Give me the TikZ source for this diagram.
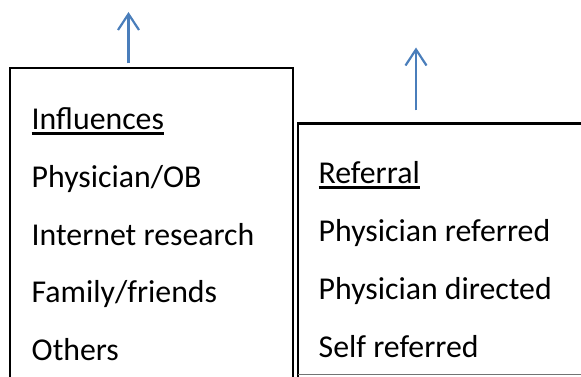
\documentclass[tikz,border=0pt]{standalone}
\usepackage{fontspec}
\setmainfont{Carlito}
\usetikzlibrary{arrows.meta}
\definecolor{arrowblue}{HTML}{4A7EBB}
\tikzset{
  item/.style={anchor=base west, inner sep=0pt, font=\fontsize{31.8}{38}\selectfont},
  boxline/.style={draw=black, line width=2.2pt},
  uparrow/.style={draw=arrowblue, line width=2.2pt, -{Straight Barb[length=16pt,width=21pt,line width=2.2pt]}},
  uline/.style={draw=black, line width=2.8pt}
}
\begin{document}
\begin{tikzpicture}[x=1pt,y=-1pt]
\useasboundingbox (0,0) rectangle (581,377);
\clip (0,0) rectangle (581,377);
% boxes
\draw[boxline] (10,400) -- (10,68) -- (293,68) -- (293,400);
\draw[boxline] (298,377) -- (298,123.5) -- (600,123.5);
\draw[draw=black!55, line width=1.4pt] (298,374.6) -- (600,374.6);
% arrows
\coordinate (a1s) at (128.5,63.5);
\coordinate (a1e) at (128.5,12);
\coordinate (a2s) at (416,110.5);
\coordinate (a2e) at (416,47.5);
\draw[uparrow] (a1s) -- (a1e);
\draw[uparrow] (a2s) -- (a2e);
% left texts
\node[item] (infl) at (31.5,129.3) {Influences};
\node[item] (phob) at (31.5,187) {Physician/OB};
\node[item] (inet) at (31.5,245) {Internet research};
\node[item] (fam) at (31.5,302.5) {Family/friends};
\node[item] (oth) at (31.5,360.5) {Others};
\draw[uline] ([yshift=-4.2pt]infl.base west) -- ([yshift=-4.2pt]infl.base east);
% right texts
\node[item] (refl) at (318.5,183.3) {Referral};
\node[item] (pref) at (318.5,241.7) {Physician referred};
\node[item] (pdir) at (318.5,299.5) {Physician directed};
\node[item] (self) at (318.5,357.7) {Self referred};
\draw[uline] ([yshift=-4.2pt]refl.base west) -- ([yshift=-4.2pt]refl.base east);
\end{tikzpicture}
\end{document}
